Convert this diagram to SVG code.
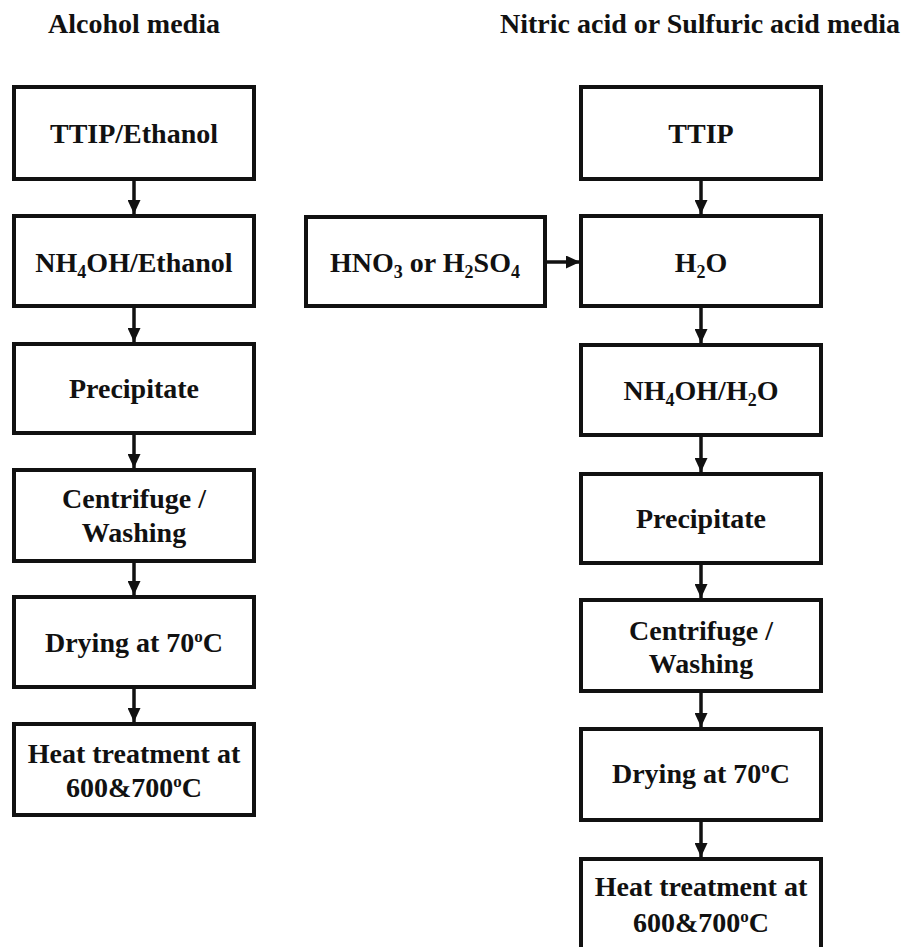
<svg xmlns="http://www.w3.org/2000/svg" width="906" height="947" viewBox="0 0 906 947">
<style>
text{font-family:"Liberation Serif","Times New Roman",serif;font-weight:bold;font-size:28px;fill:#111;text-anchor:middle}
.box{fill:#fff;stroke:#111;stroke-width:4}
.conn{stroke:#111;stroke-width:3.5;fill:none}
.sub{font-size:18px}
.sup{font-size:17px}
</style>
<defs>
<marker id="ah" viewBox="0 0 14 13" markerWidth="14" markerHeight="13" refX="14" refY="6.5" orient="auto" markerUnits="userSpaceOnUse">
<path d="M0,0 L14,6.5 L0,13 z" fill="#111"/>
</marker>
</defs>
<rect width="906" height="947" fill="#fff"/>
<g id="title-left"><text x="134" y="33">Alcohol media</text></g>
<g id="title-right"><text x="700" y="33">Nitric acid or Sulfuric acid media</text></g>

<g id="connectors">
<line class="conn" x1="134" y1="181" x2="134" y2="214" marker-end="url(#ah)"/>
<line class="conn" x1="134" y1="308" x2="134" y2="342" marker-end="url(#ah)"/>
<line class="conn" x1="134" y1="435" x2="134" y2="468" marker-end="url(#ah)"/>
<line class="conn" x1="134" y1="563" x2="134" y2="595" marker-end="url(#ah)"/>
<line class="conn" x1="134" y1="689" x2="134" y2="722" marker-end="url(#ah)"/>
<line class="conn" x1="701" y1="181" x2="701" y2="214" marker-end="url(#ah)"/>
<line class="conn" x1="701" y1="308" x2="701" y2="343" marker-end="url(#ah)"/>
<line class="conn" x1="701" y1="437" x2="701" y2="472" marker-end="url(#ah)"/>
<line class="conn" x1="701" y1="565" x2="701" y2="598" marker-end="url(#ah)"/>
<line class="conn" x1="701" y1="693" x2="701" y2="727" marker-end="url(#ah)"/>
<line class="conn" x1="701" y1="822" x2="701" y2="857" marker-end="url(#ah)"/>
<line class="conn" x1="547" y1="262" x2="580" y2="262" marker-end="url(#ah)"/>
</g>

<g id="l1"><rect class="box" x="14" y="87" width="240" height="92"/><text x="134" y="143">TTIP/Ethanol</text></g>
<g id="l2"><rect class="box" x="14" y="216" width="240" height="90"/><text x="134" y="272">NH<tspan class="sub" dy="6">4</tspan><tspan dy="-6">OH/Ethanol</tspan></text></g>
<g id="l3"><rect class="box" x="14" y="344" width="240" height="89"/><text x="134" y="398">Precipitate</text></g>
<g id="l4"><rect class="box" x="14" y="470" width="240" height="91"/><text x="134" y="508">Centrifuge /</text><text x="134" y="542">Washing</text></g>
<g id="l5"><rect class="box" x="14" y="597" width="240" height="90"/><text x="134" y="652">Drying at 70<tspan class="sup" dy="-10">o</tspan><tspan dy="10">C</tspan></text></g>
<g id="l6"><rect class="box" x="14" y="724" width="240" height="91"/><text x="134" y="763">Heat treatment at</text><text x="134" y="797">600&amp;700<tspan class="sup" dy="-10">o</tspan><tspan dy="10">C</tspan></text></g>

<g id="acid"><rect class="box" x="306" y="217" width="239" height="89"/><text x="425" y="272">HNO<tspan class="sub" dy="6">3</tspan><tspan dy="-6"> or H</tspan><tspan class="sub" dy="6">2</tspan><tspan dy="-6">SO</tspan><tspan class="sub" dy="6">4</tspan></text></g>

<g id="r1"><rect class="box" x="581" y="87" width="240" height="92"/><text x="701" y="143">TTIP</text></g>
<g id="r2"><rect class="box" x="581" y="216" width="240" height="90"/><text x="701" y="272">H<tspan class="sub" dy="6">2</tspan><tspan dy="-6">O</tspan></text></g>
<g id="r3"><rect class="box" x="581" y="345" width="240" height="90"/><text x="701" y="400">NH<tspan class="sub" dy="6">4</tspan><tspan dy="-6">OH/H</tspan><tspan class="sub" dy="6">2</tspan><tspan dy="-6">O</tspan></text></g>
<g id="r4"><rect class="box" x="581" y="474" width="240" height="89"/><text x="701" y="528">Precipitate</text></g>
<g id="r5"><rect class="box" x="581" y="600" width="240" height="91"/><text x="701" y="640">Centrifuge /</text><text x="701" y="673">Washing</text></g>
<g id="r6"><rect class="box" x="581" y="729" width="240" height="91"/><text x="701" y="783">Drying at 70<tspan class="sup" dy="-10">o</tspan><tspan dy="10">C</tspan></text></g>
<g id="r7"><rect class="box" x="581" y="859" width="240" height="100"/><text x="701" y="896">Heat treatment at</text><text x="701" y="932">600&amp;700<tspan class="sup" dy="-10">o</tspan><tspan dy="10">C</tspan></text></g>
</svg>
